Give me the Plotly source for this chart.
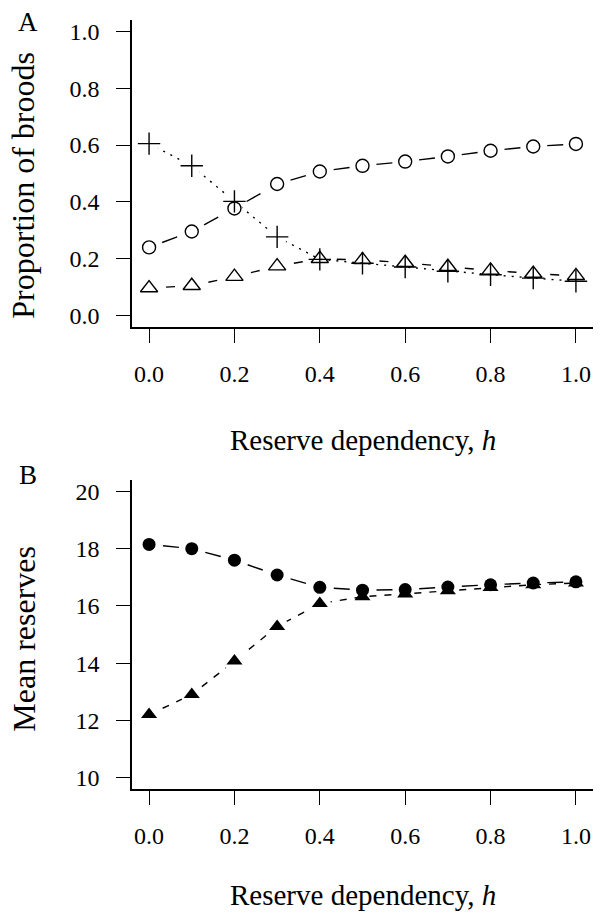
import plotly.graph_objects as go

h = [0.0, 0.1, 0.2, 0.3, 0.4, 0.5, 0.6, 0.7, 0.8, 0.9, 1.0]

# Panel A: proportion of broods
prop_circle = [0.24, 0.296, 0.377, 0.463, 0.507, 0.527, 0.542, 0.560, 0.580, 0.595, 0.604]
prop_triangle = [0.097, 0.105, 0.137, 0.174, 0.200, 0.196, 0.186, 0.172, 0.159, 0.148, 0.140]
prop_cross = [0.605, 0.527, 0.402, 0.277, 0.198, 0.184, 0.171, 0.156, 0.144, 0.132, 0.121]

# Panel B: mean reserves
res_circle = [18.15, 18.0, 17.6, 17.08, 16.65, 16.55, 16.57, 16.66, 16.74, 16.8, 16.84]
res_triangle = [12.2, 12.9, 14.07, 15.28, 16.08, 16.32, 16.42, 16.53, 16.64, 16.74, 16.8]

yticksA = [0.0, 0.2, 0.4, 0.6, 0.8, 1.0]
yticksB = [10, 12, 14, 16, 18, 20]
xticks = [0.0, 0.2, 0.4, 0.6, 0.8, 1.0]

FONT = "'Liberation Serif', 'Times New Roman', Tinos, serif"
LW = 1.4

fig = go.Figure()


def add_line(xa, ya, y, dash, lw=LW):
    fig.add_trace(go.Scatter(x=h, y=y, xaxis=xa, yaxis=ya, mode="lines",
                             line=dict(color="black", width=lw, dash=dash),
                             hoverinfo="skip", showlegend=False))


def add_segments(xa, ya, y, dash, lw=LW):
    # one trace per segment so that the dash pattern restarts at every point
    # (mimics R's type="b" lines that stop short of the symbols)
    for i in range(len(h) - 1):
        fig.add_trace(go.Scatter(x=h[i:i + 2], y=y[i:i + 2], xaxis=xa, yaxis=ya,
                                 mode="lines",
                                 line=dict(color="black", width=lw, dash=dash),
                                 hoverinfo="skip", showlegend=False))


def add_gap(xa, ya, xs, y, size):
    fig.add_trace(go.Scatter(x=xs, y=y, xaxis=xa, yaxis=ya, mode="markers",
                             marker=dict(symbol="circle", size=size, color="white"),
                             hoverinfo="skip", showlegend=False))


def add_markers(xa, ya, y, symbol, size, fill, lw=LW):
    fig.add_trace(go.Scatter(x=h, y=y, xaxis=xa, yaxis=ya, mode="markers",
                             marker=dict(symbol=symbol, size=size, color=fill,
                                         line=dict(color="black", width=lw)),
                             hoverinfo="skip", showlegend=False))


# Panel A
add_line("x", "y", prop_cross, "2px,6px")
add_gap("x", "y", h[:4], prop_cross[:4], 20)
add_segments("x", "y", prop_circle, "0px,14px,16px,300px")
add_segments("x", "y", prop_triangle, "0px,17px,9px,300px")
add_markers("x", "y", prop_circle, "circle", 13, "white")
add_markers("x", "y", prop_triangle, "triangle-up", 15, "rgba(255,255,255,0)")
add_markers("x", "y", prop_cross, "cross-thin", 16, "black")

# Panel B
add_segments("x2", "y2", res_circle, "0px,14px,16px,300px")
add_line("x2", "y2", res_triangle, "7px,8px")
add_gap("x2", "y2", h[:5], res_triangle[:5], 22)
add_markers("x2", "y2", res_triangle, "triangle-up", 14, "black", 0)
add_markers("x2", "y2", res_circle, "circle", 13, "black", 0)

axis_common = dict(showgrid=False, zeroline=False, showline=True, linecolor="black",
                   linewidth=1.5, ticks="outside", ticklen=14, tickwidth=1.3,
                   tickcolor="black", tickfont=dict(family=FONT, size=24, color="black"))

fig.update_layout(
    width=602, height=913,
    margin=dict(l=132, r=9, t=20, b=124),
    paper_bgcolor="white", plot_bgcolor="white",
    font=dict(family=FONT, color="black"),
    xaxis=dict(domain=[0, 1], anchor="y", range=[-0.04, 1.04], tickvals=xticks,
               ticktext=[f"{v:.1f}" for v in xticks], ticklabelstandoff=10, **axis_common),
    yaxis=dict(domain=[0.6008, 1], anchor="x", range=[-0.04, 1.04], tickvals=yticksA,
               ticktext=[f"{v:.1f}" for v in yticksA], ticklabelstandoff=12, **axis_common),
    xaxis2=dict(domain=[0, 1], anchor="y2", range=[-0.04, 1.04], tickvals=xticks,
                ticktext=[f"{v:.1f}" for v in xticks], ticklabelstandoff=10, **axis_common),
    yaxis2=dict(domain=[0, 0.4018], anchor="x2", range=[9.6, 20.4], tickvals=yticksB,
                ticktext=[str(v) for v in yticksB], ticklabelstandoff=12, **axis_common),
)

xtitle_font = dict(family=FONT, size=29, color="black")
ytitle_font = dict(family=FONT, size=32, color="black")
xt_html = "Reserve dependency, <i>h</i>"
fig.add_annotation(text=xt_html, xref="x domain", yref="y domain", x=0.5, y=0,
                   xanchor="center", yanchor="middle", yshift=-113, showarrow=False,
                   font=xtitle_font)
fig.add_annotation(text=xt_html, xref="x2 domain", yref="y2 domain", x=0.5, y=0,
                   xanchor="center", yanchor="middle", yshift=-106, showarrow=False,
                   font=xtitle_font)
fig.add_annotation(text="Proportion of broods", xref="paper", yref="y domain",
                   x=-0.236, y=0.5, xanchor="center", yanchor="middle", textangle=-90,
                   yshift=-12, showarrow=False, font=ytitle_font)
fig.add_annotation(text="Mean reserves", xref="paper", yref="y2 domain",
                   x=-0.236, y=0.5, xanchor="center", yanchor="middle", textangle=-90,
                   yshift=-4, showarrow=False, font=ytitle_font)
fig.add_annotation(text="A", xref="paper", yref="y domain", x=-0.2256, y=1,
                   xanchor="center", yanchor="middle", yshift=-2, showarrow=False,
                   font=dict(family=FONT, size=27, color="black"))
fig.add_annotation(text="B", xref="paper", yref="y2 domain", x=-0.2256, y=1,
                   xanchor="center", yanchor="middle", yshift=5, showarrow=False,
                   font=dict(family=FONT, size=27, color="black"))

fig.write_html("out.html")
